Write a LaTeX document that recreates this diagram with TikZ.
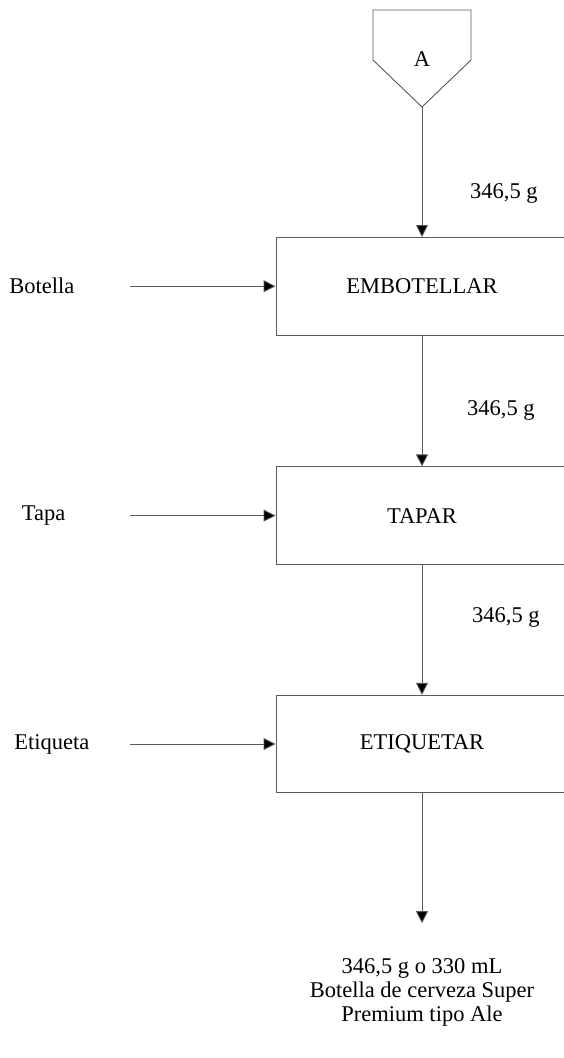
\documentclass[tikz,border=0pt]{standalone}
\usepackage{fontspec}
\setmainfont{Liberation Serif}
\usepackage{tikz}
\usetikzlibrary{positioning,arrows.meta}

\begin{document}
\begin{tikzpicture}[
  x=1pt, y=1pt,
  font=\fontsize{22.5}{24}\selectfont,
  line/.style={draw=black!65, line width=0.9pt},
  proc/.style={line, minimum width=292pt, minimum height=97.5pt, inner sep=2pt},
  txt/.style={inner sep=2pt},
  arr/.style={line, -{Triangle[length=12pt,width=12pt,fill=black]}}]
\useasboundingbox (0,0) rectangle (563,-1058);
% conector de entrada
\node[txt] (ini) at (422,-59) {A};
\coordinate (pta) at (422,-107);
\draw[line] (373,-10) -- (471,-10) -- (471,-60) -- (pta) -- (373,-60) -- cycle;

\node[proc, below=130pt of pta] (emb) {EMBOTELLAR};
\node[proc, below=131pt of emb] (tap) {TAPAR};
\node[proc, below=130pt of tap] (eti) {ETIQUETAR};

\node[txt, anchor=west] (m1) at (468,-193) {346,5 g};
\node[txt, anchor=west] (m2) at (465,-410) {346,5 g};
\node[txt, anchor=west] (m3) at (470,-617) {346,5 g};

\draw[arr] (pta) -- (emb);
\draw[arr] (emb) -- (tap);
\draw[arr] (tap) -- (eti);

% insumos
\coordinate[left=146pt of emb.west] (botin);
\coordinate[left=146pt of tap.west] (tpain);
\coordinate[left=146pt of eti.west] (etqin);
\node[txt, left=53pt of botin] (bot) {Botella};
\node[txt, left=62pt of tpain] (tpa) {Tapa};
\node[txt, left=38pt of etqin] (etq) {Etiqueta};
\draw[arr] (botin) -- (emb.west);
\draw[arr] (tpain) -- (tap.west);
\draw[arr] (etqin) -- (eti.west);

% producto
\coordinate[below=130pt of eti] (fin);
\draw[arr] (eti) -- (fin);
\node[txt, align=center, anchor=north] (prod) at (422,-956) {346,5 g o 330 mL\\Botella de cerveza Super\\Premium tipo Ale};
\end{tikzpicture}
\end{document}
